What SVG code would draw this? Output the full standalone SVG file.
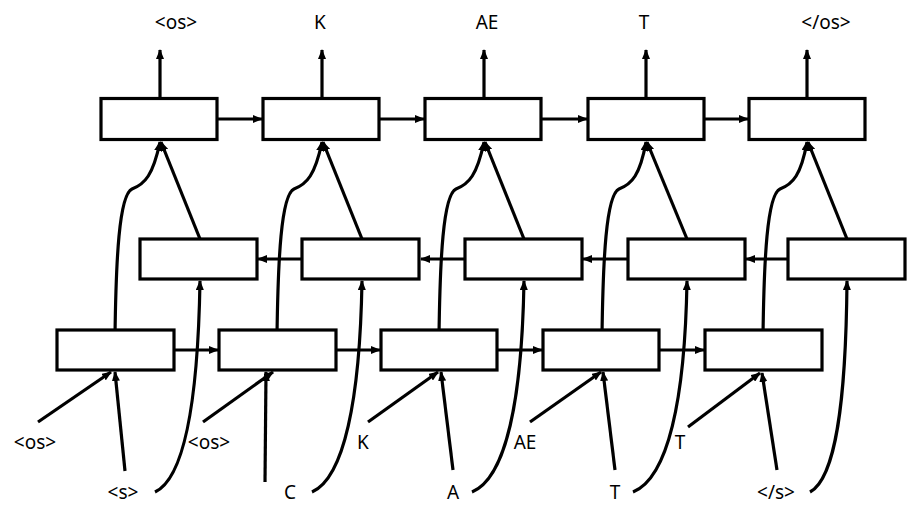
<svg xmlns="http://www.w3.org/2000/svg" width="918" height="515" viewBox="0 0 918 515">
<defs>
<marker id="ah" viewBox="0 0 10 8" refX="9" refY="4" markerWidth="10" markerHeight="8" markerUnits="userSpaceOnUse" orient="auto">
<path d="M0,0 L10,4 L0,8 z" fill="#000"/>
</marker>
<style>
.box{fill:#fff;stroke:#000;stroke-width:3.2}
.ln{fill:none;stroke:#000;stroke-width:3.2;marker-end:url(#ah)}
text{font-family:"Noto Sans","Open Sans",sans-serif;font-size:19px;fill:#000;text-anchor:middle}
</style>
</defs>
<rect width="918" height="515" fill="#fff"/>
<g id="connectors">
<line class="ln" x1="160" y1="98" x2="160" y2="50"/>
<line class="ln" x1="322" y1="98" x2="322" y2="50"/>
<line class="ln" x1="484" y1="98" x2="484" y2="50"/>
<line class="ln" x1="646" y1="98" x2="646" y2="50"/>
<line class="ln" x1="807" y1="98" x2="807" y2="50"/>
<line class="ln" x1="217" y1="119" x2="262" y2="119"/>
<line class="ln" x1="379" y1="119" x2="424" y2="119"/>
<line class="ln" x1="541" y1="119" x2="587" y2="119"/>
<line class="ln" x1="704" y1="119" x2="748" y2="119"/>
<line class="ln" x1="302" y1="259" x2="258" y2="259"/>
<line class="ln" x1="465" y1="259" x2="421" y2="259"/>
<line class="ln" x1="628" y1="259" x2="583" y2="259"/>
<line class="ln" x1="788" y1="259" x2="746" y2="259"/>
<line class="ln" x1="174" y1="350" x2="218" y2="350"/>
<line class="ln" x1="336" y1="350" x2="380" y2="350"/>
<line class="ln" x1="497" y1="350" x2="542" y2="350"/>
<line class="ln" x1="659" y1="350" x2="704" y2="350"/>
<line class="ln" x1="200" y1="239" x2="161" y2="142"/>
<line class="ln" x1="362" y1="239" x2="323" y2="142"/>
<line class="ln" x1="524" y1="239" x2="485" y2="142"/>
<line class="ln" x1="687" y1="239" x2="647" y2="142"/>
<line class="ln" x1="847" y1="239" x2="808" y2="142"/>
<path class="ln" d="M115,336 C116,260 119,195 132,189 C145,184 153,175 160,142"/>
<path class="ln" d="M277,336 C278,260 281,195 294,189 C307,184 315,175 322,142"/>
<path class="ln" d="M439,336 C440,260 443,195 456,189 C469,184 477,175 484,142"/>
<path class="ln" d="M602,336 C603,260 606,195 619,189 C632,184 640,175 646,142"/>
<path class="ln" d="M763,336 C764,260 767,195 780,189 C793,184 801,175 807,142"/>
<path class="ln" d="M155,492 C185,478 198,400 200,281"/>
<path class="ln" d="M312,492 C344,478 360,400 362,281"/>
<path class="ln" d="M472,492 C506,478 522,400 524,281"/>
<path class="ln" d="M633,492 C668,478 685,400 687,281"/>
<path class="ln" d="M810,492 C836,478 846,400 847,281"/>
<line class="ln" x1="38" y1="422" x2="111" y2="372"/>
<line class="ln" x1="125" y1="471" x2="115" y2="372"/>
<line class="ln" x1="203" y1="422" x2="273" y2="372"/>
<line class="ln" x1="265" y1="482" x2="266" y2="372"/>
<line class="ln" x1="368" y1="422" x2="438" y2="372"/>
<line class="ln" x1="453" y1="470" x2="441" y2="372"/>
<line class="ln" x1="530" y1="422" x2="601" y2="372"/>
<line class="ln" x1="615" y1="470" x2="603" y2="372"/>
<line class="ln" x1="688" y1="427" x2="760" y2="373"/>
<line class="ln" x1="777" y1="470" x2="762" y2="373"/>
</g>
<g id="top1"><rect class="box" x="101" y="98.5" width="116" height="41"/></g>
<g id="top2"><rect class="box" x="263" y="98.5" width="116" height="41"/></g>
<g id="top3"><rect class="box" x="425" y="98.5" width="116" height="41"/></g>
<g id="top4"><rect class="box" x="588" y="98.5" width="116" height="41"/></g>
<g id="top5"><rect class="box" x="749" y="98.5" width="116" height="41"/></g>
<g id="mid1"><rect class="box" x="140" y="239" width="117" height="40"/></g>
<g id="mid2"><rect class="box" x="302" y="239" width="117" height="40"/></g>
<g id="mid3"><rect class="box" x="465" y="239" width="117" height="40"/></g>
<g id="mid4"><rect class="box" x="628" y="239" width="117" height="40"/></g>
<g id="mid5"><rect class="box" x="788" y="239" width="117" height="40"/></g>
<g id="bot1"><rect class="box" x="57" y="330" width="117" height="40"/></g>
<g id="bot2"><rect class="box" x="219" y="330" width="117" height="40"/></g>
<g id="bot3"><rect class="box" x="381" y="330" width="116" height="40"/></g>
<g id="bot4"><rect class="box" x="543" y="330" width="116" height="40"/></g>
<g id="bot5"><rect class="box" x="705" y="330" width="117" height="40"/></g>
<g id="labels">
<text x="176" y="29">&lt;os&gt;</text>
<text x="320" y="29">K</text>
<text x="487" y="29">AE</text>
<text x="644" y="29">T</text>
<text x="826" y="29">&lt;/os&gt;</text>
<text x="35" y="449">&lt;os&gt;</text>
<text x="209" y="449">&lt;os&gt;</text>
<text x="363" y="449">K</text>
<text x="525" y="449">AE</text>
<text x="680" y="449">T</text>
<text x="123" y="499">&lt;s&gt;</text>
<text x="290" y="499">C</text>
<text x="453" y="499">A</text>
<text x="615" y="499">T</text>
<text x="776" y="499">&lt;/s&gt;</text>
</g>
</svg>
